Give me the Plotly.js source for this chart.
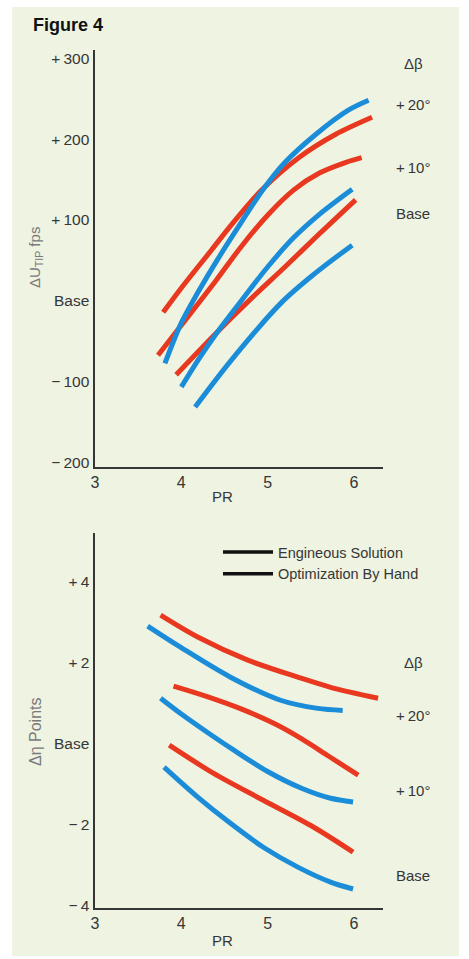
<!DOCTYPE html>
<html>
<head>
<meta charset="utf-8">
<script src="https://cdn.plot.ly/plotly-3.0.1.min.js"></script>
<style>
  html, body { margin: 0; padding: 0; background: #ffffff; }
  #chart { width: 469px; height: 959px; }
</style>
</head>
<body>
<div id="chart"></div>
<script>
// ---------- DATA ----------
const PR_TICKS = [3, 4, 5, 6];

const TOP_TICK_VALS = [300, 200, 100, 0, -100, -200];
const TOP_TICK_TEXT = ['+\u2009300', '+\u2009200', '+\u2009100', 'Base', '\u2212\u2009100', '\u2212\u2009200'];
const BOT_TICK_VALS = [4, 2, 0, -2, -4];
const BOT_TICK_TEXT = ['+\u20094', '+\u20092', 'Base', '\u2212\u20092', '\u2212\u20094'];

const BETA_LABELS = ['\u0394\u03b2', '+\u200920\u00b0', '+\u200910\u00b0', 'Base'];
const LEGEND_NAMES = ['Engineous Solution', 'Optimization By Hand'];

// Top panel: delta U tip (fps) vs PR
const tipBlue20X = [3.81, 4.0, 4.2, 4.43, 4.7, 4.95, 5.2, 5.56, 5.94, 6.17];
const tipBlue20Y = [-77, -27, 12, 53, 98, 138, 171, 206, 236, 248];
const tipRed20X  = [3.79, 4.0, 4.35, 4.58, 4.93, 5.36, 5.79, 6.21];
const tipRed20Y  = [-14, 16, 63, 94, 137, 177, 206, 227];
const tipBlue10X = [4.0, 4.2, 4.4, 4.7, 5.0, 5.3, 5.6, 5.98];
const tipBlue10Y = [-106, -72, -41, 1, 42, 78, 107, 138];
const tipRed10X  = [3.73, 4.0, 4.4, 4.7, 5.0, 5.3, 5.6, 5.9, 6.09];
const tipRed10Y  = [-67, -30, 25, 68, 106, 137, 158, 171, 177];
const tipBlue0X  = [4.16, 4.58, 5.16, 5.56, 5.98];
const tipBlue0Y  = [-131, -73, -2, 35, 69];
const tipRed0X   = [3.94, 4.4, 4.8, 5.2, 5.6, 6.02];
const tipRed0Y   = [-91, -40, 2, 42, 83, 125];

// Bottom panel: delta eta (points) vs PR
const etaBlue20X = [3.61, 3.99, 4.57, 5.15, 5.58, 5.87];
const etaBlue20Y = [2.89, 2.37, 1.63, 1.06, 0.86, 0.81];
const etaRed20X  = [3.76, 4.19, 4.77, 5.35, 5.73, 6.28];
const etaRed20Y  = [3.16, 2.62, 2.05, 1.63, 1.38, 1.11];
const etaBlue10X = [3.76, 4.0, 4.3, 4.6, 5.0, 5.4, 5.73, 5.99];
const etaBlue10Y = [1.11, 0.72, 0.27, -0.16, -0.7, -1.12, -1.36, -1.45];
const etaRed10X  = [3.91, 4.3, 4.7, 5.1, 5.4, 5.7, 6.05];
const etaRed10Y  = [1.41, 1.15, 0.84, 0.46, 0.1, -0.31, -0.79];
const etaBlue0X  = [3.80, 4.19, 4.57, 4.95, 5.35, 5.73, 5.99];
const etaBlue0Y  = [-0.59, -1.33, -1.98, -2.57, -3.06, -3.43, -3.6];
const etaRed0X   = [3.86, 4.37, 4.95, 5.53, 5.99];
const etaRed0Y   = [-0.05, -0.74, -1.41, -2.07, -2.69];

// ---------- STYLE ----------
const BLUE = '#1b8dd8';
const RED = '#e8381f';
const BG = '#eef3e2';
const INK = '#363636';
const FONT = '"Liberation Sans", Arial, Helvetica, sans-serif';
const W = 469, H = 959;

function curve(x, y, color, xa, ya) {
  return {
    type: 'scatter', mode: 'lines', x: x, y: y, xaxis: xa, yaxis: ya,
    line: { color: color, width: 5, shape: 'spline', smoothing: 0.9 },
    showlegend: false, hoverinfo: 'skip'
  };
}

const traces = [
  curve(tipRed0X, tipRed0Y, RED, 'x', 'y'),
  curve(tipBlue0X, tipBlue0Y, BLUE, 'x', 'y'),
  curve(tipRed10X, tipRed10Y, RED, 'x', 'y'),
  curve(tipBlue10X, tipBlue10Y, BLUE, 'x', 'y'),
  curve(tipRed20X, tipRed20Y, RED, 'x', 'y'),
  curve(tipBlue20X, tipBlue20Y, BLUE, 'x', 'y'),
  curve(etaRed0X, etaRed0Y, RED, 'x2', 'y2'),
  curve(etaBlue0X, etaBlue0Y, BLUE, 'x2', 'y2'),
  curve(etaRed10X, etaRed10Y, RED, 'x2', 'y2'),
  curve(etaBlue10X, etaBlue10Y, BLUE, 'x2', 'y2'),
  curve(etaRed20X, etaRed20Y, RED, 'x2', 'y2'),
  curve(etaBlue20X, etaBlue20Y, BLUE, 'x2', 'y2')
];
LEGEND_NAMES.forEach(function (n) {
  traces.push({
    type: 'scatter', mode: 'lines', x: [null], y: [null], xaxis: 'x2', yaxis: 'y2',
    name: n, line: { color: '#111111', width: 3.5 }, showlegend: true, hoverinfo: 'skip'
  });
});

function px(xp) { return xp / W; }
function py(yp) { return 1 - yp / H; }

const xBase = {
  domain: [px(95), px(383)], range: [3, 6.337],
  tickmode: 'array', tickvals: PR_TICKS, ticktext: PR_TICKS.map(String),
  showgrid: false, zeroline: false, showline: true, linecolor: INK, linewidth: 1.6,
  ticks: '', tickfont: { size: 16, color: INK }, automargin: false, fixedrange: true
};
const yBase = {
  showgrid: false, zeroline: false, showline: true, linecolor: INK, linewidth: 1.6,
  ticks: '', tickfont: { size: 15.5, color: INK }, automargin: false, fixedrange: true,
  tickmode: 'array', ticklabelstandoff: 1
};

const ann = [];
function label(text, x, y, opts) {
  ann.push(Object.assign({
    text: text, x: x, y: y, xref: 'paper', yref: 'paper', showarrow: false,
    xanchor: 'center', yanchor: 'middle', font: { family: FONT, size: 15, color: INK }
  }, opts || {}));
}
label('<b>Figure 4</b>', px(31), py(25), { xanchor: 'left', font: { family: FONT, size: 18, color: '#111' } });
label('\u0394U<sub>TIP</sub> fps', px(35), py(258), { textangle: -90, font: { family: FONT, size: 15, color: '#7a7a7a' } });
label('\u0394\u03b7 Points', px(35), py(732), { textangle: -90, font: { family: FONT, size: 16, color: '#7a7a7a' } });
label('PR', px(222), py(496));
label('PR', px(222), py(940));
const topBetaY = [63, 105, 167, 213];
const botBetaY = [662, 715, 790, 875];
BETA_LABELS.forEach(function (t, i) {
  label(t, px(413), py(topBetaY[i]));
  label(t, px(413), py(botBetaY[i]));
});

const layout = {
  width: W, height: H,
  margin: { l: 0, r: 0, t: 0, b: 0 },
  paper_bgcolor: '#ffffff', plot_bgcolor: 'rgba(0,0,0,0)',
  font: { family: FONT, size: 15, color: INK },
  xaxis: Object.assign({}, xBase, { anchor: 'y' }),
  yaxis: Object.assign({}, yBase, {
    anchor: 'x', domain: [py(467), py(50)], range: [-205, 310],
    tickvals: TOP_TICK_VALS, ticktext: TOP_TICK_TEXT
  }),
  xaxis2: Object.assign({}, xBase, { anchor: 'y2' }),
  yaxis2: Object.assign({}, yBase, {
    anchor: 'x2', domain: [py(908), py(533)], range: [-4.07, 5.19],
    tickvals: BOT_TICK_VALS, ticktext: BOT_TICK_TEXT
  }),
  showlegend: true,
  legend: {
    x: px(218), y: py(536), xanchor: 'left', yanchor: 'top',
    bgcolor: 'rgba(0,0,0,0)', borderwidth: 0, itemwidth: 50,
    font: { family: FONT, size: 14.5, color: INK }, tracegroupgap: 0
  },
  shapes: [{
    type: 'rect', xref: 'paper', yref: 'paper', layer: 'below',
    x0: px(12), x1: px(459), y0: py(956), y1: py(7),
    fillcolor: BG, line: { width: 0 }
  }],
  annotations: ann
};

Plotly.newPlot('chart', traces, layout, { staticPlot: true, displayModeBar: false });
</script>
</body>
</html>
